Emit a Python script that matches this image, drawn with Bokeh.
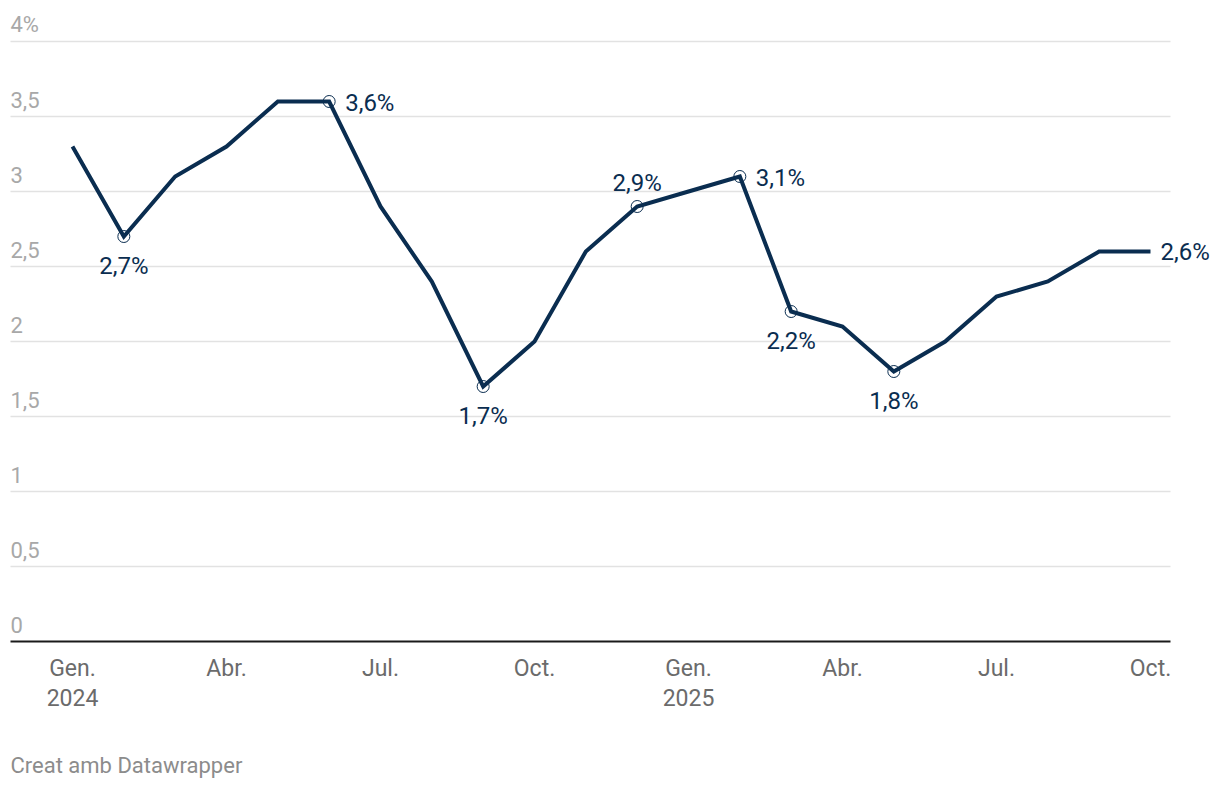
from bokeh.plotting import figure
from bokeh.models import Range1d
from bokeh.embed import file_html
from bokeh.resources import INLINE
from bokeh.core.properties import value

# ---- data ----
months = ["2024-01", "2024-02", "2024-03", "2024-04", "2024-05", "2024-06",
          "2024-07", "2024-08", "2024-09", "2024-10", "2024-11", "2024-12",
          "2025-01", "2025-02", "2025-03", "2025-04", "2025-05", "2025-06",
          "2025-07", "2025-08", "2025-09", "2025-10"]
inflation = [3.3, 2.7, 3.1, 3.3, 3.6, 3.6, 2.9, 2.4, 1.7, 2.0, 2.6, 2.9,
             3.0, 3.1, 2.2, 2.1, 1.8, 2.0, 2.3, 2.4, 2.6, 2.6]
x_tick_idx = [0, 3, 6, 9, 12, 15, 18, 21]
x_tick_labels = ["Gen.", "Abr.", "Jul.", "Oct.", "Gen.", "Abr.", "Jul.", "Oct."]
x_year_idx = [0, 12]
x_year_labels = ["2024", "2025"]
y_ticks = [0, 0.5, 1, 1.5, 2, 2.5, 3, 3.5, 4]
y_tick_labels = ["0", "0,5", "1", "1,5", "2", "2,5", "3", "3,5", "4%"]
label_idx = [1, 5, 8, 11, 13, 14, 16, 21]
label_pos = ["below", "right", "below", "above", "right", "below", "below", "end"]
circle_idx = [1, 5, 8, 11, 13, 14, 16]
credit = "Creat amb Datawrapper"

# ---- layout ----
W, H = 1212, 780
PX_X = 51.333   # pixels per month
PX_Y = 150.0    # pixels per unit
X0 = 72         # frame px of first month
Y0 = 641        # frame px of value 0

def fx(px):
    return (px - X0) / PX_X

def fy(py):
    return (Y0 - py) / PX_Y

FONT = value("Roboto")
LINE = "#0a2d50"

x = list(range(len(months)))

p = figure(width=W, height=H, output_backend="svg", toolbar_location=None,
           x_range=Range1d(fx(0), fx(W)), y_range=Range1d(fy(H), fy(0)),
           min_border=0, outline_line_color=None)
p.axis.visible = False
p.grid.visible = False
p.background_fill_color = "white"
p.border_fill_color = "white"

gx0, gx1 = fx(10), fx(1170)
# gridlines
p.segment(x0=[gx0] * (len(y_ticks) - 1), x1=[gx1] * (len(y_ticks) - 1),
          y0=y_ticks[1:], y1=y_ticks[1:], line_color="#e2e2e2", line_width=1.5)
# baseline
p.segment(x0=[gx0], x1=[gx1], y0=[0], y1=[0], line_color="#1a1a1a", line_width=2)

# y tick labels
p.text(x=[gx0] * len(y_ticks), y=y_ticks, text=y_tick_labels, text_font=FONT,
       text_font_size="22px", text_color="#a8a8a8", text_align="left",
       text_baseline="middle", y_offset=-17)

# x tick labels
p.text(x=x_tick_idx, y=[0] * len(x_tick_idx), text=x_tick_labels, text_font=FONT,
       text_font_size="23px", text_color="#6b6b6b", text_align="center",
       text_baseline="middle", y_offset=27)
p.text(x=x_year_idx, y=[0] * len(x_year_idx), text=x_year_labels, text_font=FONT,
       text_font_size="23px", text_color="#6b6b6b", text_align="center",
       text_baseline="middle", y_offset=56)

# line
p.line(x=x, y=inflation, line_color=LINE, line_width=4, line_join="miter")

# circles
p.scatter(x=[x[i] for i in circle_idx], y=[inflation[i] for i in circle_idx],
          marker="circle", size=12, fill_color=None, line_color=LINE, line_width=1)

# data labels
offsets = {"below": (0, 29, "center"), "above": (0, -24, "center"),
           "right": (16, 1, "left"), "end": (10, 0, "left")}
for i, pos in zip(label_idx, label_pos):
    dxp, dyp, al = offsets[pos]
    txt = ("%.1f%%" % inflation[i]).replace(".", ",")
    p.text(x=[x[i]], y=[inflation[i]], text=[txt], text_font=FONT,
           text_font_size="24px", text_color=LINE, text_align=al,
           text_baseline="middle", x_offset=dxp, y_offset=dyp)

# credit
p.text(x=[gx0], y=[fy(765)], text=[credit], text_font=FONT, text_font_size="22px",
       text_color="#8c8c8c", text_align="left", text_baseline="middle")

open("out.html", "w").write(file_html(p, INLINE))
